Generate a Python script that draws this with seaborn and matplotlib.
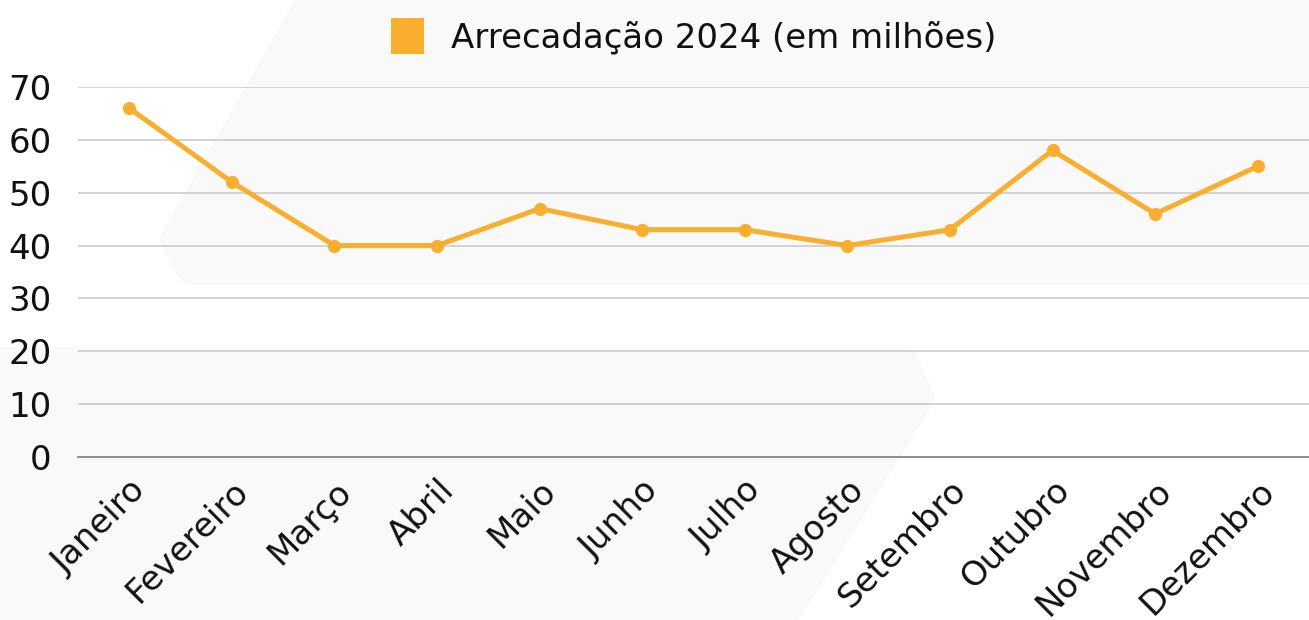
import matplotlib
matplotlib.use("Agg")
import matplotlib.pyplot as plt
from matplotlib.patches import Patch, Polygon
import seaborn as sns
import pandas as pd

months = ["Janeiro", "Fevereiro", "Março", "Abril", "Maio", "Junho",
          "Julho", "Agosto", "Setembro", "Outubro", "Novembro", "Dezembro"]
values = [66, 52, 40, 40, 47, 43, 43, 40, 43, 58, 46, 55]
series_label = "Arrecadação 2024 (em milhões)"
yticks = [0, 10, 20, 30, 40, 50, 60, 70]

LINE_COLOR = "#F9AE2F"
FONT = ["DejaVu Sans"]
FS = 24.5

sns.set_theme(style="white")
plt.rcParams["font.family"] = FONT

W, H = 1309, 620
fig = plt.figure(figsize=(W / 100, H / 100), dpi=100)
fig.patch.set_facecolor("white")

# decorative faint background shapes (figure pixel coords, y from top)
def px(points):
    return [(x / W, 1 - y / H) for x, y in points]

bg = "#f9f9f9"
shape1 = Polygon(px([(321, -20), (1340, -20), (1340, 272), (190, 272), (172, 240)]),
                 closed=True, transform=fig.transFigure, facecolor=bg,
                 edgecolor=bg, linewidth=18, joinstyle="round", zorder=-10)
shape2 = Polygon(px([(-20, 360), (905, 360), (922, 398), (772, 640), (-20, 640)]),
                 closed=True, transform=fig.transFigure, facecolor=bg,
                 edgecolor=bg, linewidth=18, joinstyle="round", zorder=-10)
fig.patches.extend([shape1, shape2])

ax = fig.add_axes([78 / W, 1 - 457 / H, (W - 78) / W, (457 - 87) / H])
ax.set_facecolor("none")
ax.set_zorder(1)

df = pd.DataFrame({"mes": months, "valor": values})
sns.lineplot(data=df, x="mes", y="valor", sort=False, ax=ax, color=LINE_COLOR,
             linewidth=3.6, marker="o", markersize=9.5, markeredgewidth=0,
             zorder=5)

ax.set_xlim(-0.5, len(months) - 0.5)
ax.set_ylim(0, 70)
ax.set_yticks(yticks)
ax.set_yticklabels([str(v) for v in yticks], fontsize=FS, color="#111111")
ax.set_xticks(range(len(months)))
ax.set_xticklabels(months, rotation=45, ha="right", va="top",
                   rotation_mode="anchor", fontsize=FS, color="#111111")
ax.tick_params(axis="x", length=0, pad=12)
ax.tick_params(axis="y", length=0, pad=19)
ax.set_xlabel("")
ax.set_ylabel("")

ax.grid(axis="y", color="#c8c8c8", linewidth=1.1)
ax.set_axisbelow(True)
for s in ["left", "right", "top"]:
    ax.spines[s].set_visible(False)
ax.spines["bottom"].set_color("#888888")
ax.spines["bottom"].set_linewidth(1.3)

handle = Patch(facecolor=LINE_COLOR, edgecolor="none")
leg = ax.legend(handles=[handle], labels=[series_label], loc="lower center",
                bbox_to_anchor=(0.5, 1.0), frameon=False, fontsize=FS,
                handlelength=0.97, handleheight=1.25, handletextpad=0.8,
                borderaxespad=0.55)
for t in leg.get_texts():
    t.set_color("#111111")

fig.savefig("out.png", dpi=100)
